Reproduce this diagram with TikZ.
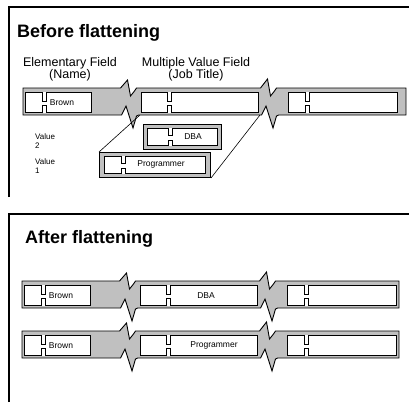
\documentclass[tikz,border=0pt]{standalone}
\usepackage{fontspec}
\setmainfont{Liberation Sans}
\definecolor{barfill}{HTML}{C0C0C0}
\begin{document}
\begin{tikzpicture}[x=1pt, y=-1pt]
  % Styles for the field bars, cells and labels
  \tikzset{
    frameline/.style={black, line width=1.4pt},
    fieldbar/.style={draw=black, fill=barfill, line width=0.9pt, line join=miter},
    cell/.style={rectangle, draw=black, fill=white, line width=1.3pt, inner sep=0pt, minimum height=20pt, anchor=north west},
    valuebox/.style={rectangle, draw=black, fill=barfill, line width=1pt, inner sep=0pt, anchor=north west},
    notch/.style={draw=black, fill=white, line width=0.9pt},
    headcap/.style={font=\fontsize{12.5}{11.5}\selectfont, align=center, inner sep=0pt, anchor=north},
    ttl/.style={font=\fontsize{18}{20}\selectfont\bfseries, inner sep=0pt, anchor=base west},
    val/.style={font=\fontsize{8.5}{10}\selectfont, inner sep=0pt},
    tag/.style={font=\fontsize{8}{9.5}\selectfont, align=left, inner sep=0pt, anchor=north west},
    link/.style={black, line width=0.6pt}
  }
  \useasboundingbox (0,0) rectangle (409,402);

  % Panel frames, open on the right
  \draw[frameline] (9,197) -- (9,7) -- (409,7);
  \draw[frameline] (9,402) -- (9,214) -- (409,214);

  % Titles and headings
  \node[ttl] (before) at (17,37) {Before flattening};
  \node[ttl] (after) at (25,243) {After flattening};
  \node[headcap] (elem) at (70,57) {Elementary Field\\(Name)};
  \node[headcap] (multi) at (196,57) {Multiple Value Field\\(Job Title)};

  % Three records: one before, two after flattening
  \foreach \bx/\by/\bw/\bname/\vtxt/\vpos in {
      23/88/383/before/{}/66,
      22/281/377/flatA/DBA/66,
      22/331/377/flatB/Programmer/74%
  } {
    \begin{scope}[shift={(\bx,\by)}]
      \draw[fieldbar] (0,0) -- (97.5,0) -- (104.5,-8) -- (107.5,8) -- (111.5,3) -- (113.5,0)
        -- (237.5,0) -- (244.5,-9) -- (247.5,8) -- (251.5,3) -- (253.5,0) -- (\bw,0)
        -- (\bw,27) -- (255.5,27) -- (253.5,28) -- (250,40) -- (243,18) -- (238.5,27)
        -- (115.5,27) -- (113.5,28) -- (110,40) -- (103,18) -- (98.5,27) -- (0,27) -- cycle;
      \node[cell, minimum width=66pt] (\bname-1) at (2,4) {};
      \node[cell, minimum width=117pt] (\bname-2) at (118,4) {};
      \node[cell, minimum width=109pt] (\bname-3) at (265,4) {};
      \foreach \k/\off in {1/17, 2/26, 3/17} {
        \draw[notch] ([xshift=\off pt]\bname-\k.north west) -- ++(0,9) -- ++(4,0) -- ++(0,-9);
        \draw[notch] ([xshift=\off pt]\bname-\k.south west) -- ++(0,-8) -- ++(4,0) -- ++(0,8);
      }
      \node[val] at ([xshift=37pt]\bname-1.west) {Brown};
      \node[val] at ([xshift=\vpos pt]\bname-2.west) {\vtxt};
    \end{scope}
  }

  % The two values of the multiple value field
  \node[valuebox, minimum width=78pt, minimum height=25pt] (dbaframe) at (143,124) {};
  \node[cell, minimum width=70pt, minimum height=17pt] (dba) at (147,128) {};
  \node[valuebox, minimum width=111pt, minimum height=25pt] (progframe) at (99,152) {};
  \node[cell, minimum width=101pt, minimum height=17pt] (prog) at (104,156) {};
  \foreach \cellname/\off in {dba/21, prog/17} {
    \draw[notch] ([xshift=\off pt]\cellname.north west) -- ++(0,7) -- ++(4,0) -- ++(0,-7);
    \draw[notch] ([xshift=\off pt]\cellname.south west) -- ++(0,-6) -- ++(4,0) -- ++(0,6);
  }
  \node[val] (dbatxt) at (193,137) {DBA};
  \node[val] (progtxt) at (161,164.5) {Programmer};
  \node[tag] (val2) at (35,133) {Value\\2};
  \node[tag] (val1) at (35,158) {Value\\1};

  % Lines from the value to its slot in the record
  \coordinate (slotL) at (140,115);
  \coordinate (slotR) at (260,115);
  \draw[link] (progframe.north west) -- (slotL);
  \draw[link] (progframe.south east) -- (slotR);
\end{tikzpicture}
\end{document}
